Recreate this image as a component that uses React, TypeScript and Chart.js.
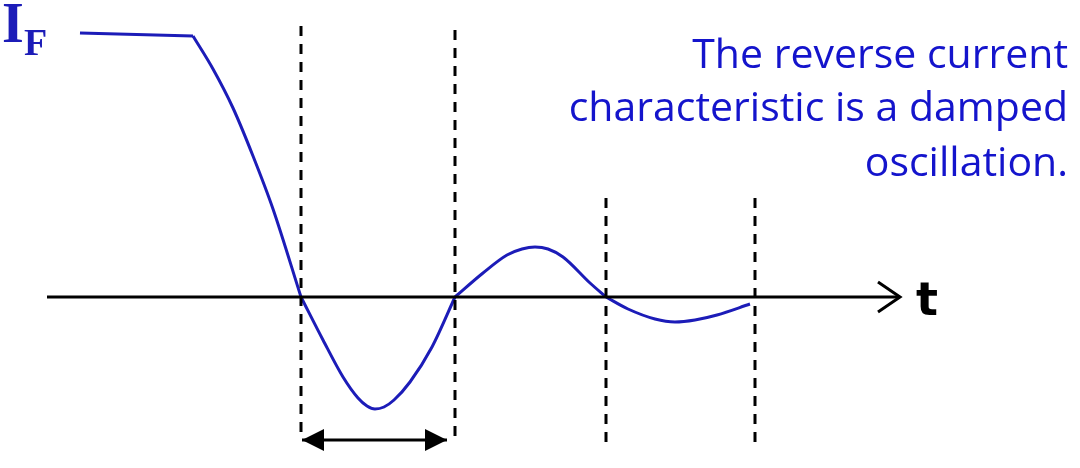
import React, { useEffect, useRef } from "react";
import { Chart, registerables } from "chart.js";

Chart.register(...registerables);

// Forward current plateau (time, current)
const plateauT = [80, 193];
const plateauI = [264, 261];

// Reverse recovery: damped oscillation (time, current), split into lobes
const fallT = [193, 213, 233, 253, 273, 301];
const fallI = [261, 228, 189, 141, 88, 0];
const troughT = [301, 323, 343, 358, 367, 375, 384, 394, 410, 432, 455];
const troughI = [0, -43, -80, -101, -109, -112, -110, -103, -85, -50, 0];
const humpT = [455, 483, 507, 522, 535, 548, 563, 590, 606];
const humpI = [0, 24, 42, 48, 50, 48, 40, 14, 0];
const tailT = [606, 628, 655, 675, 695, 717, 750];
const tailI = [0, -12, -22, -25, -23, -18, -7];

// Time axis
const axisT = [47, 900];
const axisArrowT = [878, 900, 878];
const axisArrowI = [15, 0, -15];

// Dashed markers at zero crossings
const markerT = [301, 455, 606, 755];
const markerTop = [271, 267, 99, 99];
const markerBottom = [-141, -145, -145, -148];

// Period indicator
const periodT = [302, 447];
const periodI = -143;

const yMin = -171;
const yMax = 297;

const CURVE = "#1c1cb8";
const TEXT = "#1414cc";

export default function App() {
  const ref = useRef<HTMLCanvasElement | null>(null);
  useEffect(() => {
    document.body.style.margin = "0";
    const canvas = ref.current!;
    const datasets: any[] = [];
    const line = (xs: number[], ys: number[], extra: any) =>
      datasets.push({
        data: xs.map((t, i) => ({ x: t, y: ys[i] })),
        pointRadius: 0,
        tension: 0,
        ...extra,
      });
    const smooth = { borderColor: CURVE, borderWidth: 3, cubicInterpolationMode: "monotone" };
    line(axisT, [0, 0], { borderColor: "#000", borderWidth: 3 });
    line(axisArrowT, axisArrowI, { borderColor: "#000", borderWidth: 3 });
    markerT.forEach((t, i) =>
      line([t, t], [markerTop[i], markerBottom[i]], {
        borderColor: "#000",
        borderWidth: 3,
        borderDash: [10, 8],
      })
    );
    line(periodT, [periodI, periodI], { borderColor: "#000", borderWidth: 3 });
    line(plateauT, plateauI, { borderColor: CURVE, borderWidth: 3 });
    line(fallT, fallI, smooth);
    line(troughT, troughI, smooth);
    line(humpT, humpI, smooth);
    line(tailT, tailI, smooth);

    const overlay = {
      id: "overlay",
      afterDatasetsDraw(chart: any) {
        const ctx = chart.ctx;
        const xs = chart.scales.x;
        const ys = chart.scales.y;
        const yy = ys.getPixelForValue(periodI);
        const xl = xs.getPixelForValue(periodT[0]);
        const xr = xs.getPixelForValue(periodT[1]);
        ctx.save();
        ctx.fillStyle = "#000";
        ctx.beginPath();
        ctx.moveTo(xl, yy);
        ctx.lineTo(xl + 22, yy - 11);
        ctx.lineTo(xl + 22, yy + 11);
        ctx.closePath();
        ctx.fill();
        ctx.beginPath();
        ctx.moveTo(xr, yy);
        ctx.lineTo(xr - 22, yy - 11);
        ctx.lineTo(xr - 22, yy + 11);
        ctx.closePath();
        ctx.fill();

        ctx.fillStyle = CURVE;
        ctx.textBaseline = "alphabetic";
        ctx.textAlign = "left";
        ctx.font = 'bold 56px "Liberation Serif"';
        ctx.fillText("I", 2, 42);
        ctx.font = 'bold 38px "Liberation Serif"';
        ctx.fillText("F", 24, 55);

        ctx.fillStyle = "#000";
        ctx.font = 'bold 46px "DejaVu Sans"';
        ctx.fillText("t", 916, 315);

        ctx.fillStyle = TEXT;
        ctx.textAlign = "right";
        ctx.font = '41px "Open Sans"';
        ctx.fillText("The reverse current", 1068, 68);
        ctx.fillText("characteristic is a damped", 1068, 121);
        ctx.fillText("oscillation.", 1068, 176);
        ctx.restore();
      },
    };

    const chart = new Chart(canvas, {
      type: "line",
      data: { datasets },
      options: {
        animation: false,
        responsive: false,
        maintainAspectRatio: false,
        layout: { padding: 0 },
        plugins: { legend: { display: false }, tooltip: { enabled: false } },
        scales: {
          x: { type: "linear", min: 0, max: 1080, display: false },
          y: { type: "linear", min: yMin, max: yMax, display: false },
        },
      },
      plugins: [overlay],
    });
    return () => chart.destroy();
  }, []);
  return (
    <div style={{ width: 1080, height: 468, background: "#fff" }}>
      <canvas ref={ref} width={1080} height={468} />
    </div>
  );
}
